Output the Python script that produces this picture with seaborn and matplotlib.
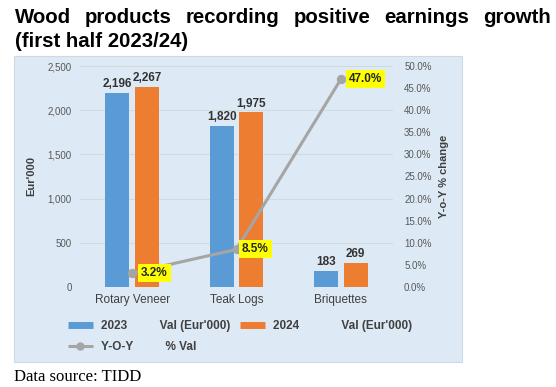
import matplotlib
matplotlib.use("Agg")
import matplotlib.pyplot as plt
import seaborn as sns
import pandas as pd
from matplotlib.patches import Rectangle
from matplotlib.lines import Line2D
from matplotlib.ticker import MultipleLocator, FuncFormatter

# ---- data ----
categories = ["Rotary Veneer", "Teak Logs", "Briquettes"]
val_2023 = [2196, 1820, 183]
val_2024 = [2267, 1975, 269]
yoy_pct = [3.2, 8.5, 47.0]
years = ["2023", "2024"]

title_line1 = "Wood products recording positive earnings growth"
title_line2 = "(first half 2023/24)"
source_text = "Data source: TIDD"

BLUE = "#5b9bd5"
ORANGE = "#ed7d31"
GRAY = "#a5a5a5"
PANEL = "#dde9f5"
TXT = "#404040"

sns.set_style("white")
plt.rcParams["font.family"] = ["Liberation Sans", "DejaVu Sans"]

W, H = 556, 387
fig = plt.figure(figsize=(W / 100, H / 100), dpi=100)
fig.patch.set_facecolor("white")

def fx(px):
    return px / W

def fy(py):
    return 1 - py / H

# panel background
fig.patches.append(Rectangle((fx(14), fy(362)), fx(462) - fx(14), fy(56) - fy(362),
                             transform=fig.transFigure, facecolor=PANEL,
                             edgecolor="#cdd9e5", linewidth=0.8, zorder=-5))

df = pd.DataFrame({
    "category": categories * 2,
    "year": [years[0]] * 3 + [years[1]] * 3,
    "value": val_2023 + val_2024,
})

ax = fig.add_axes([fx(80), fy(287), fx(393) - fx(80), fy(66) - fy(287)])
ax.set_facecolor("none")
sns.barplot(data=df, x="category", y="value", hue="year", palette=[BLUE, ORANGE],
            width=0.57, gap=0.2, saturation=1, ax=ax, legend=False, errorbar=None,
            linewidth=0)
for cont in ax.containers:
    ax.bar_label(cont, labels=[f"{v:,.0f}" for v in cont.datavalues], padding=2,
                 fontsize=8.5, fontweight="bold", color="#333333")
ax.set_ylim(0, 2500)
ax.set_xlim(-0.5, 2.5)
ax.yaxis.set_major_locator(MultipleLocator(500))
ax.yaxis.set_major_formatter(FuncFormatter(lambda v, p: f"{v:,.0f}"))
ax.grid(axis="y", color="#d4d9de", linewidth=0.8)
ax.grid(axis="x", visible=False)
ax.set_axisbelow(True)
ax.set_xlabel("")
ax.set_ylabel("Eur'000", fontsize=8, fontweight="bold", color=TXT, labelpad=8)
ax.tick_params(axis="y", length=0, labelsize=7, labelcolor="#595959", pad=6)
ax.tick_params(axis="x", length=0, labelsize=8.5, labelcolor=TXT, pad=5)
for s in ax.spines.values():
    s.set_visible(False)

ax2 = ax.twinx()
sns.lineplot(x=[0, 1, 2], y=yoy_pct, ax=ax2, color=GRAY, linewidth=2.2,
             marker="o", markersize=6, markeredgecolor=GRAY)
ax2.grid(False)
ax2.set_ylim(0, 50)
ax2.set_xlim(-0.5, 2.5)
ax2.yaxis.set_major_locator(MultipleLocator(5))
ax2.yaxis.set_major_formatter(FuncFormatter(lambda v, p: f"{v:.1f}%"))
ax2.tick_params(axis="y", length=0, labelsize=7, labelcolor="#595959", pad=8)
ax2.set_ylabel("Y-o-Y % change", fontsize=8, fontweight="bold", color=TXT, labelpad=5)
for s in ax2.spines.values():
    s.set_visible(False)

offsets = [6.5, 4, 6]
for i, v in enumerate(yoy_pct):
    ax2.annotate(f"{v:.1f}%", (i, v), xytext=(offsets[i], 0), textcoords="offset points",
                 ha="left", va="center", fontsize=8.5, fontweight="bold", color="#262626",
                 bbox=dict(boxstyle="square,pad=0.25", fc="#ffff00", ec="none"))

# legend
handles = [
    Line2D([], [], color=BLUE, linewidth=5, solid_capstyle="butt"),
    Line2D([], [], color=GRAY, linewidth=2.2, marker="o", markersize=5, solid_capstyle="butt"),
    Line2D([], [], color=ORANGE, linewidth=5, solid_capstyle="butt"),
]
labels = [
    "2023" + " " * 10 + "Val (Eur'000)",
    "Y-O-Y" + " " * 10 + "% Val",
    "2024" + " " * 13 + "Val (Eur'000)",
]
leg = fig.legend(handles, labels, ncol=2, loc="upper left",
                 bbox_to_anchor=(fx(68), fy(320)), frameon=False,
                 borderpad=0, borderaxespad=0, handlelength=2.1, handletextpad=0.7,
                 columnspacing=0.8, labelspacing=0.8,
                 prop={"size": 8.5, "weight": "bold"})
for t in leg.get_texts():
    t.set_color(TXT)

# justified title
fig.canvas.draw()
renderer = fig.canvas.get_renderer()
words = title_line1.split()
texts = [fig.text(0, fy(23), w, fontsize=14.7, fontweight="bold", color="black", va="baseline")
         for w in words]
widths = [t.get_window_extent(renderer).width for t in texts]
left, right = 15, 551
gap = (right - left - sum(widths)) / (len(words) - 1)
x = left
for t, w in zip(texts, widths):
    t.set_x(fx(x))
    x += w + gap
fig.text(fx(15), fy(47), title_line2, fontsize=14.7, fontweight="bold", color="black",
         va="baseline")

fig.text(fx(14), fy(381), source_text, fontsize=12, family=["Liberation Serif"],
         color="black", va="baseline")

fig.savefig("out.png", dpi=100)
